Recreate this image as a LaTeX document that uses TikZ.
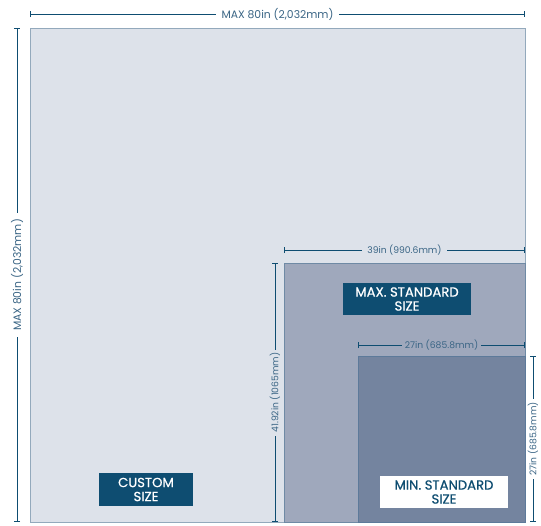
\documentclass[tikz,border=0pt]{standalone}
\usepackage{fontspec}
\setmainfont{Poppins}
\newfontfamily\tagfont{Poppins}[FakeBold=0.7]
\usetikzlibrary{arrows.meta}
\definecolor{navy}{HTML}{0E4D71}
\definecolor{dimtxt}{HTML}{3A6585}
\definecolor{lightfill}{HTML}{DDE2EA}
\definecolor{lightedge}{HTML}{93A9BC}
\definecolor{midfill}{HTML}{9FA8BC}
\definecolor{midedge}{HTML}{6F8AA5}
\definecolor{darkfill}{HTML}{74849F}
\definecolor{darkedge}{HTML}{5D7A9A}
\tikzset{
  dim/.style={draw=navy, line width=0.9pt, {Bar[width=6pt]}-{Bar[width=6pt]}},
  dimlab/.style={text=dimtxt, inner sep=1.5pt, font=\fontsize{9.2}{10}\selectfont},
  bigdimlab/.style={text=dimtxt, inner sep=2pt, font=\fontsize{10.8}{12}\selectfont},
  tag/.style={fill=navy, text=white, align=center, font=\tagfont\fontsize{13.2}{14}\selectfont, inner sep=0pt},
  wtag/.style={fill=white, text=navy, align=center, font=\tagfont\fontsize{13.2}{14}\selectfont, inner sep=0pt},
}
\begin{document}
\begin{tikzpicture}[x=1pt,y=-1pt]
\useasboundingbox (0,0) rectangle (541,525);
% rectangles
\draw[fill=lightfill, draw=lightedge, line width=0.8pt] (30,28) rectangle (525,522);
\draw[fill=midfill, draw=midedge, line width=0.8pt] (284,263) rectangle (525,522);
\draw[fill=darkfill, draw=darkedge, line width=0.8pt] (358,356) rectangle (525,522);
% labels
\node[tag, minimum width=128pt, minimum height=32pt] (maxstd) at (407,299) {MAX. STANDARD\\SIZE};
\node[tag, minimum width=94pt, minimum height=33pt] (custom) at (146,489.5) {CUSTOM\\SIZE};
\node[wtag, minimum width=128pt, minimum height=32pt] (minstd) at (444,492) {MIN. STANDARD\\SIZE};
% dimension coordinates
\coordinate (a1) at (30,14); \coordinate (a2) at (525,14);
\coordinate (b1) at (17,28); \coordinate (b2) at (17,522);
\coordinate (c1) at (284,250); \coordinate (c2) at (525,250);
\coordinate (d1) at (275,263); \coordinate (d2) at (275,522);
\coordinate (e1) at (358,345); \coordinate (e2) at (525,345);
\coordinate (f1) at (533,356); \coordinate (f2) at (533,522);
\draw[dim] (a1) -- node[bigdimlab, fill=white, inner xsep=6pt] {MAX 80in (2,032mm)} (a2);
\draw[dim] (b2) -- node[bigdimlab, fill=white, sloped, inner xsep=6pt] {MAX 80in (2,032mm)} (b1);
\draw[dim] (c1) -- node[dimlab, fill=lightfill, inner xsep=5pt] {39in (990.6mm)} (c2);
\draw[dim] (d2) -- node[dimlab, fill=lightfill, sloped, inner xsep=3pt] {41.92in (1065mm)} (d1);
\draw[dim] (e1) -- node[dimlab, fill=midfill, inner xsep=3pt] {27in (685.8mm)} (e2);
\draw[dim] (f2) -- node[dimlab, fill=white, sloped, inner xsep=3pt] {27in (685.8mm)} (f1);
\end{tikzpicture}
\end{document}
